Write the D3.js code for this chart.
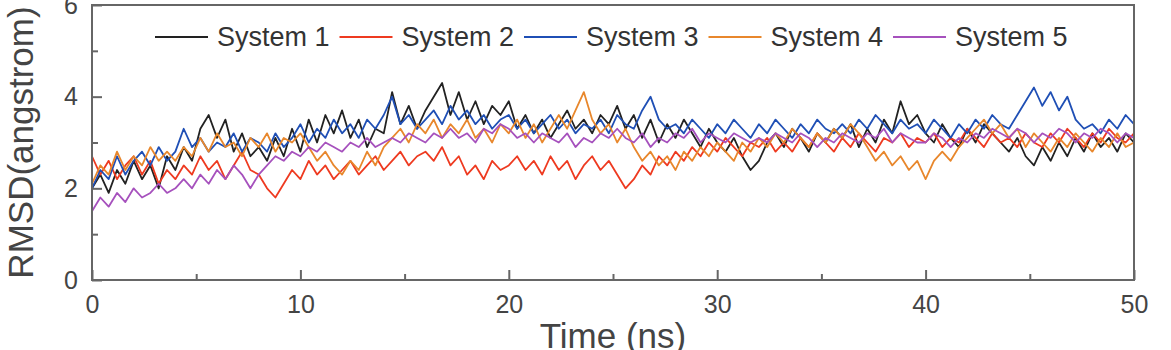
<!DOCTYPE html>
<html>
<head>
<meta charset="utf-8">
<script src="https://cdn.jsdelivr.net/npm/d3@7"></script>
<style>
  body { margin: 0; background: #fff; }
  svg { display: block; font-family: Arial, "Liberation Sans", sans-serif; }
  .axis text { fill: #444; font-size: 25px; }
  .axis path, .axis line { stroke: #666; stroke-width: 2; }
</style>
</head>
<body>
<svg id="chart"></svg>
<script>
const seriesNames = ['System 1', 'System 2', 'System 3', 'System 4', 'System 5'];
const seriesColors = ['#222222', '#ee3a20', '#1f4fb5', '#e8872c', '#a651bd'];
const timeStep = 0.4;
const xTicks = [0, 10, 20, 30, 40, 50];
const xMinorTicks = [5, 15, 25, 35, 45];
const yTicks = [0, 2, 4, 6];
const yMinorTicks = [1, 3, 5];

const system1 = [
  2.0, 2.3, 1.9, 2.4, 2.1, 2.6, 2.2, 2.5, 2.0, 2.7,
  2.4, 2.9, 2.6, 3.3, 3.6, 3.1, 3.5, 2.8, 3.2, 2.7,
  2.9, 2.6, 3.1, 2.7, 3.3, 2.8, 3.5, 3.0, 3.6, 3.2,
  3.7, 3.1, 3.5, 2.9, 3.3, 3.2, 4.1, 3.4, 3.8, 3.3,
  3.7, 4.0, 4.3, 3.6, 4.1, 3.5, 3.9, 3.4, 3.8, 3.6,
  3.9, 3.3, 3.6, 3.2, 3.5, 3.1, 3.4, 3.7, 3.3, 3.5,
  3.2, 3.6, 3.4, 3.8, 3.3, 3.6, 3.1, 3.5, 3.0, 3.4,
  3.1, 3.5, 3.2, 2.9, 3.3, 3.0, 2.8, 3.1, 2.7, 2.4,
  2.6, 3.0, 3.2, 2.9, 3.3, 3.1, 2.8, 3.2, 3.0, 3.3,
  3.1, 3.4, 2.9, 3.3, 3.0, 3.5, 3.2, 3.9, 3.4, 3.6,
  3.2, 3.0, 3.4, 3.1, 2.9, 3.3, 3.0, 3.4, 3.2, 3.0,
  2.8, 3.1, 2.7, 2.5, 2.9, 2.6, 3.0, 2.7, 3.1, 2.8,
  3.2, 2.9, 3.1, 2.8, 3.2, 3.0
];
const system2 = [
  2.7, 2.3, 2.6, 2.2, 2.5, 2.7, 2.3, 2.6, 2.1, 2.4,
  2.2, 2.5, 2.3, 2.7, 2.4, 2.6, 2.2, 2.5, 2.8, 2.4,
  2.3, 2.0, 1.8, 2.1, 2.4, 2.2, 2.6, 2.3, 2.5, 2.2,
  2.4, 2.6, 2.3, 2.5, 2.7, 2.4, 2.6, 2.8, 2.5, 2.7,
  2.8, 2.6, 2.9, 2.5, 2.7, 2.3, 2.5, 2.2, 2.6, 2.4,
  2.5, 2.7, 2.4, 2.6, 2.3, 2.7, 2.4, 2.6, 2.2, 2.5,
  2.7, 2.4, 2.6, 2.3, 2.0, 2.2, 2.5, 2.3, 2.7, 2.5,
  2.8, 2.6, 2.9, 2.7, 3.0, 2.8, 3.1, 2.9, 2.7, 3.0,
  2.9, 3.1, 2.8, 3.0, 2.8, 3.1, 2.9, 3.2, 3.0, 2.8,
  3.1, 2.9, 3.2, 3.0, 2.8, 3.1, 3.0, 3.2, 2.9, 3.1,
  3.0, 3.2, 2.9, 3.1, 3.0, 3.3, 3.1, 2.9, 3.2, 3.0,
  3.1, 2.9, 3.2, 3.0, 2.9, 3.2, 3.0, 3.3, 3.1, 2.9,
  3.2, 3.0, 3.3, 3.1, 3.0, 3.2
];
const system3 = [
  2.0, 2.4, 2.2, 2.7, 2.3, 2.6, 2.8, 2.5, 2.9, 2.6,
  2.8, 3.3, 2.9, 3.1, 2.8, 3.0, 2.9, 3.2, 2.8, 3.1,
  3.0, 2.8, 3.2, 2.9, 3.1, 3.4, 3.0, 3.3, 3.1, 3.5,
  3.2, 3.4, 3.1, 3.5, 3.3, 3.6, 4.0, 3.4, 3.6, 3.3,
  3.5, 3.7, 3.4, 3.8, 3.5, 3.7, 3.4, 3.6, 3.3, 3.5,
  3.6, 3.3, 3.5, 3.2, 3.4, 3.6, 3.3, 3.5, 3.2, 3.4,
  3.3, 3.5, 3.2, 3.6, 3.4, 3.3, 3.7, 4.0, 3.5, 3.3,
  3.4, 3.2, 3.5, 3.3, 3.1, 3.4, 3.2, 3.5, 3.3, 3.1,
  3.4, 3.2, 3.5, 3.3, 3.1, 3.4, 3.2, 3.5, 3.3, 3.2,
  3.4, 3.2, 3.5, 3.3, 3.6, 3.4, 3.2, 3.5, 3.3, 3.4,
  3.2, 3.5, 3.3, 3.1, 3.4, 3.2, 3.5, 3.3, 3.6, 3.4,
  3.3, 3.6, 3.9, 4.2, 3.8, 4.1, 3.7, 4.0, 3.5, 3.3,
  3.4, 3.2, 3.5, 3.3, 3.6, 3.4
];
const system4 = [
  2.1, 2.5, 2.3, 2.8, 2.4, 2.7, 2.5, 2.9, 2.6, 2.8,
  2.6, 2.9, 2.7, 3.1, 2.8, 3.2, 2.9, 3.0, 2.7, 3.1,
  2.9, 3.2, 2.8, 3.1, 3.0, 3.2, 2.9, 2.6, 2.8, 2.5,
  2.3, 2.6, 2.4, 2.8, 2.5, 2.9, 3.1, 3.3, 3.0, 3.4,
  3.2, 3.5, 3.1, 3.4, 3.2, 3.5, 3.1, 3.3, 3.0, 3.4,
  3.2, 3.5, 3.1, 3.4, 3.0, 3.3, 3.6, 3.3, 3.7, 4.1,
  3.5, 3.2, 3.4, 3.0, 3.3, 2.9, 2.6, 2.8, 2.5, 2.7,
  2.4, 2.8, 2.6, 2.9, 2.7, 3.0, 2.8, 2.6, 3.0, 2.8,
  3.1, 2.9, 3.2, 3.0, 3.3, 3.1, 2.9, 3.2, 3.0, 3.3,
  3.1, 3.4, 3.2, 2.9, 2.6, 2.8, 2.5, 2.7, 2.4, 2.6,
  2.2, 2.6, 2.8, 2.6, 2.9, 3.1, 3.3, 3.5, 3.2, 3.4,
  3.1, 3.3, 2.9, 3.2, 3.0, 2.8, 3.1, 2.9, 3.2, 3.0,
  2.8, 3.1, 2.9, 3.2, 2.9, 3.0
];
const system5 = [
  1.5, 1.8, 1.6, 1.9, 1.7, 2.0, 1.8, 1.9, 2.1, 1.9,
  2.0, 2.2, 2.0, 2.3, 2.1, 2.4, 2.2, 2.5, 2.3, 2.0,
  2.3, 2.5, 2.7, 2.6, 2.8, 2.7, 2.9, 2.8, 3.0, 2.9,
  2.8, 3.0, 2.9, 3.1, 2.9, 3.0, 3.1, 3.0, 3.2, 3.1,
  3.0, 3.2, 3.1, 3.3, 3.1, 3.2, 3.0, 3.3, 3.2, 3.4,
  3.3, 3.1, 3.2, 3.0, 3.2, 3.1, 3.0, 3.2, 2.9, 3.1,
  3.0, 3.2, 3.1, 3.3, 3.1, 3.0, 3.2, 2.9, 3.1, 3.0,
  3.2, 3.1, 3.3, 3.0, 3.2, 3.1, 3.0, 3.2, 3.1, 3.0,
  3.1, 3.0, 3.2, 3.1, 3.0, 3.2, 3.1, 2.9, 3.1, 3.0,
  3.2, 3.1, 3.0, 3.2, 3.1, 3.3, 3.0, 3.2, 3.1, 3.0,
  3.0, 3.2, 3.1, 2.9, 3.1, 3.0, 3.2, 3.1, 3.3, 3.2,
  3.1, 3.3, 3.2, 3.0, 3.2, 3.1, 3.3, 3.2, 3.0, 3.2,
  3.1, 3.3, 3.2, 3.0, 3.2, 3.1
];
const seriesValues = [system1, system2, system3, system4, system5];

const config = {
  width: 1171,
  height: 350,
  margin: {top: 5, right: 37, bottom: 70, left: 92}
};
const width = config.width - config.margin.left - config.margin.right;
const height = config.height - config.margin.top - config.margin.bottom;

const svg = d3.select('#chart')
  .attr('width', config.width)
  .attr('height', config.height);

const chart = svg.append('g')
  .attr('transform', `translate(${config.margin.left},${config.margin.top})`);

const xScale = d3.scaleLinear().domain([0, 50]).range([0, width]);
const yScale = d3.scaleLinear().domain([0, 6]).range([height, 0]);

// Minor ticks (no labels), drawn inward
chart.append('g')
  .attr('class', 'axis')
  .attr('transform', `translate(0,${height})`)
  .call(d3.axisBottom(xScale).tickValues(xMinorTicks).tickSize(-6).tickFormat(''))
  .call(g => g.select('.domain').remove());
chart.append('g')
  .attr('class', 'axis')
  .call(d3.axisLeft(yScale).tickValues(yMinorTicks).tickSize(-6).tickFormat(''))
  .call(g => g.select('.domain').remove());

// Major ticks
chart.append('g')
  .attr('class', 'axis x-axis')
  .attr('transform', `translate(0,${height})`)
  .call(d3.axisBottom(xScale).tickValues(xTicks).tickSize(-10).tickPadding(15).tickFormat(d3.format('d')))
  .call(g => g.select('.domain').remove());
chart.append('g')
  .attr('class', 'axis y-axis')
  .call(d3.axisLeft(yScale).tickValues(yTicks).tickSize(-10).tickPadding(14).tickFormat(d3.format('d')))
  .call(g => g.select('.domain').remove());

// Lines
const line = d3.line()
  .x((d, i) => xScale(i * timeStep))
  .y(d => yScale(d));

chart.selectAll('.series')
  .data(seriesValues)
  .join('path')
  .attr('class', 'series')
  .attr('fill', 'none')
  .attr('stroke', (d, i) => seriesColors[i])
  .attr('stroke-width', 1.8)
  .attr('stroke-linejoin', 'round')
  .attr('d', line);

// Frame
chart.append('rect')
  .attr('width', width)
  .attr('height', height)
  .attr('fill', 'none')
  .attr('stroke', '#666')
  .attr('stroke-width', 2);

// Legend
const legend = chart.selectAll('.legend-item')
  .data(seriesNames)
  .join('g')
  .attr('class', 'legend-item')
  .attr('transform', (d, i) => `translate(${63 + i * 184.5},32)`);

legend.append('line')
  .attr('x1', 0)
  .attr('x2', 53)
  .attr('stroke', (d, i) => seriesColors[i])
  .attr('stroke-width', 2);

legend.append('text')
  .attr('x', 62)
  .attr('y', 9)
  .attr('fill', '#333')
  .attr('font-size', 27)
  .text(d => d);

// Axis titles
svg.append('text')
  .attr('transform', `translate(33,${config.margin.top + height / 2}) rotate(-90)`)
  .attr('text-anchor', 'middle')
  .attr('fill', '#444')
  .attr('font-size', 35)
  .text('RMSD(angstrom)');

svg.append('text')
  .attr('x', config.margin.left + width / 2)
  .attr('y', 348)
  .attr('text-anchor', 'middle')
  .attr('fill', '#444')
  .attr('font-size', 35)
  .text('Time (ns)');
</script>
</body>
</html>
